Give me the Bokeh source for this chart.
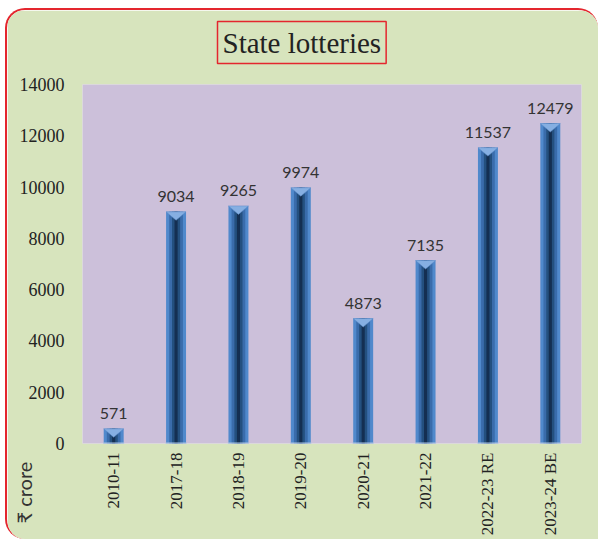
import math
from bokeh.plotting import figure
from bokeh.models import Range1d, FixedTicker, Title, ColumnDataSource
from bokeh.embed import file_html
from bokeh.resources import INLINE

years = ["2010-11", "2017-18", "2018-19", "2019-20", "2020-21", "2021-22", "2022-23 RE", "2023-24 BE"]
values = [571, 9034, 9265, 9974, 4873, 7135, 11537, 12479]
y_ticks = [0, 2000, 4000, 6000, 8000, 10000, 12000, 14000]

idx = list(range(len(years)))
bw = 0.32
tri_h = 330

src = ColumnDataSource(dict(x=idx, top=values, label=[str(v) for v in values]))

p = figure(width=593, height=531, output_backend="svg", toolbar_location=None,
           x_range=Range1d(-0.5, len(years) - 0.5), y_range=Range1d(0, 14000),
           min_border_left=75, min_border_right=19, min_border_top=74, min_border_bottom=98)
p.styles = {"position": "absolute", "left": "5px", "top": "8px", "box-sizing": "border-box",
            "border": "2px solid #e4262e",
            "border-right-width": "0px", "border-bottom-width": "0px",
            "border-top-left-radius": "20px", "border-top-right-radius": "20px",
            "border-bottom-left-radius": "20px", "border-bottom-right-radius": "0px",
            "overflow": "hidden"}
p.background_fill_color = "#ccc0da"
p.border_fill_color = "#d7e4bd"
p.outline_line_color = None
p.xgrid.visible = False
p.ygrid.visible = False

p.vbar(x="x", top="top", width=bw, bottom=0, source=src, fill_color="#5089cc", line_color=None)
p.vbar(x="x", top="top", width=0.22, bottom=0, source=src, fill_color="#3a6cab", line_color=None)
p.vbar(x="x", top="top", width=0.13, bottom=0, source=src, fill_color="#24507f", line_color=None)
p.vbar(x="x", top="top", width=0.05, bottom=0, source=src, fill_color="#142f52", line_color=None)
p.patches(xs=[[i - bw / 2, i + bw / 2, i] for i in idx],
          ys=[[v, v, v - tri_h] for v in values],
          fill_color="#86afe2", line_color="#5b8bc8", line_width=0.5)
p.segment(x0=[i - 0.17 for i in idx], x1=[i + 0.17 for i in idx], y0=[0] * len(idx), y1=[0] * len(idx),
          line_color="#a9c4e4", line_width=2)

p.text(x="x", y="top", text="label", source=src, text_align="center", text_baseline="alphabetic",
       y_offset=-15, text_font_size="16px", text_color="#333333", text_font={"value": "Lato"})

p.yaxis.ticker = FixedTicker(ticks=y_ticks)
p.yaxis.major_tick_line_color = None
p.yaxis.minor_tick_line_color = None
p.yaxis.major_tick_out = 0
p.yaxis.major_tick_in = 0
p.yaxis.minor_tick_out = 0
p.yaxis.axis_line_color = None
p.yaxis.major_label_standoff = 18
p.yaxis.major_label_text_font = "Liberation Serif"
p.yaxis.major_label_text_font_size = "18px"
p.yaxis.major_label_text_color = "#222222"

p.xaxis.ticker = FixedTicker(ticks=idx)
p.xaxis.major_label_overrides = {i: y for i, y in zip(idx, years)}
p.xaxis.major_label_orientation = math.pi / 2
p.xaxis.major_tick_line_color = None
p.xaxis.minor_tick_line_color = None
p.xaxis.major_tick_out = 0
p.xaxis.major_tick_in = 0
p.xaxis.minor_tick_out = 0
p.xaxis.axis_line_color = None
p.xaxis.major_label_standoff = 9
p.xaxis.major_label_text_font = "Liberation Serif"
p.xaxis.major_label_text_font_size = "17px"
p.xaxis.major_label_text_color = "#222222"

# spacer between frame and title box
p.add_layout(Title(text=" ", text_font_size="1px", standoff=18), "above")
p.add_layout(Title(text="State lotteries", align="left", offset=135, standoff=0,
                   text_font="Liberation Serif", text_font_size="29px", text_font_style="normal",
                   text_color="#222222", border_line_color="#e4262e", border_line_width=1.5,
                   padding=5), "above")

ylab = Title(text="₹ crore", align="left", offset=-80, standoff=-38,
             text_font="Lato", text_font_size="20px", text_font_style="normal", text_color="#333333")
p.add_layout(ylab, "left")

open("out.html", "w").write(file_html(p, INLINE))
